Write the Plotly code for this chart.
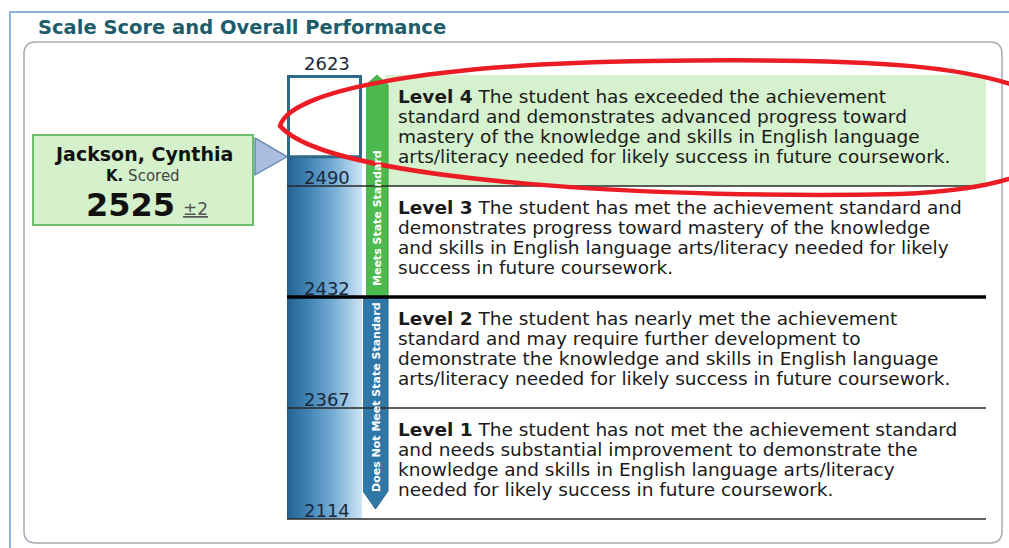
import numpy as np
import plotly.graph_objects as go

'''Score report: scale score against the achievement level cut scores'''

title = "Scale Score and Overall Performance"

# cut scores from the bottom of the scale to the top
cut_scores = [2114, 2367, 2432, 2490, 2623]
meets_cut = 2432

student_name = "Jackson, Cynthia"
student_initial = "K."
student_score = 2525
score_error = 2

standard_labels = ["Does Not Meet State Standard", "Meets State Standard"]

level_names = ["Level 1", "Level 2", "Level 3", "Level 4"]
level_lines = [
    ["The student has not met the achievement standard",
     "and needs substantial improvement to demonstrate the",
     "knowledge and skills in English language arts/literacy",
     "needed for likely success in future coursework."],
    ["The student has nearly met the achievement",
     "standard and may require further development to",
     "demonstrate the knowledge and skills in English language",
     "arts/literacy needed for likely success in future coursework."],
    ["The student has met the achievement standard and",
     "demonstrates progress toward mastery of the knowledge",
     "and skills in English language arts/literacy needed for likely",
     "success in future coursework."],
    ["The student has exceeded the achievement",
     "standard and demonstrates advanced progress toward",
     "mastery of the knowledge and skills in English language",
     "arts/literacy needed for likely success in future coursework."],
]

W, H = 1009, 548
PX_BAND = 111.0      # each level band gets the same height
TOP_PX = 75.0        # pixel row of the top cut score
FONT = "DejaVu Sans"
config = {'showLink': False, 'displayModeBar': False}

band_idx = np.arange(len(cut_scores))


def band(score):
    # piecewise linear position of a score inside the level bands
    return float(np.interp(score, cut_scores, band_idx))


def dpx(p):
    # pixel distance -> band units
    return p / PX_BAND


n_bands = len(cut_scores) - 1
y_top = n_bands + TOP_PX / PX_BAND
y_bot = -(H - TOP_PX - n_bands * PX_BAND) / PX_BAND

s = band(student_score)
b_meet = band(meets_cut)
b_lo, b_hi = band(cut_scores[0]), band(cut_scores[-1])

BAR_X0, BAR_X1 = 287, 362

fig = go.Figure()

# student bar, gradient from dark left to light right
fig.add_trace(go.Scatter(
    x=[BAR_X0, BAR_X1, BAR_X1, BAR_X0], y=[b_lo, b_lo, s, s],
    fill="toself", mode="lines", line_width=0,
    fillgradient=dict(type="horizontal",
                      colorscale=[[0, "#245e8c"], [0.08, "#2c6c9c"], [0.25, "#3c80b1"],
                                  [0.6, "#72aad3"], [1, "#cde5f5"]]),
    hoverinfo="skip"))

# meets / does not meet arrows
fig.add_trace(go.Scatter(
    x=[366, 388, 388, 377, 366], y=[b_meet, b_meet, b_hi - dpx(10), b_hi, b_hi - dpx(10)],
    fill="toself", mode="lines", line=dict(color="#3d9f40", width=1),
    fillcolor="#4dba4f", hoverinfo="skip"))
fig.add_trace(go.Scatter(
    x=[363, 388, 388, 375.5, 363], y=[b_meet, b_meet, b_lo + dpx(28), b_lo + dpx(10), b_lo + dpx(28)],
    fill="toself", mode="lines", line=dict(color="#266591", width=1),
    fillcolor="#2f77a7", hoverinfo="skip"))

# pointer from the name box to the score
fig.add_trace(go.Scatter(
    x=[255, 287, 255, 255], y=[s + dpx(19), s, s - dpx(18), s + dpx(19)],
    fill="toself", mode="lines", line=dict(color="#6a8ab4", width=1.5),
    fillcolor="#aabfdd", hoverinfo="skip"))

# empty trace so the pixel axis y2 exists
fig.add_trace(go.Scatter(x=[None], y=[None], yaxis="y2", hoverinfo="skip"))

shapes = []
# outer frame and rounded inner panel (pixel coords on y2)
shapes.append(dict(type="path", xref="x", yref="y2", layer="below",
                   path="M 10,548 L 10,12 L 1009,12",
                   line=dict(color="#8fb3de", width=2)))
shapes.append(dict(type="path", xref="x", yref="y2", layer="below",
                   path="M 36,42 L 990,42 Q 1002,42 1002,54 L 1002,531 Q 1002,543 990,543 "
                        "L 36,543 Q 24,543 24,531 L 24,54 Q 24,42 36,42 Z",
                   line=dict(color="#a3abb3", width=1.5), fillcolor="white"))
# highlighted band of the student's level
lvl = int(np.searchsorted(cut_scores, student_score, side="right")) - 1
shapes.append(dict(type="rect", xref="x", yref="y", layer="below",
                   x0=385, x1=986, y0=band(cut_scores[lvl]), y1=band(cut_scores[lvl + 1]),
                   fillcolor="#d5f1ce", line_width=0))
# name box
shapes.append(dict(type="rect", xref="x", yref="y2", layer="below",
                   x0=33, x1=253, y0=135, y1=225,
                   fillcolor="#d4f1cc", line=dict(color="#6cbd6c", width=2)))
# unfilled part of the bar
shapes.append(dict(type="rect", xref="x", yref="y", x0=BAR_X0 + 1.5, x1=BAR_X1 - 1.5,
                   y0=s, y1=b_hi - dpx(1.5), fillcolor="white",
                   line=dict(color="#2d6a87", width=3)))
# cut score lines
for c in cut_scores[:-1]:
    thick = c == meets_cut
    shapes.append(dict(type="line", xref="x", yref="y", x0=BAR_X0, x1=986,
                       y0=band(c), y1=band(c),
                       line=dict(color="#000000" if thick else "#2a2a2a",
                                 width=3.5 if thick else 1.5)))
# hand drawn red ellipse
shapes.append(dict(type="path", xref="x", yref="y2",
                   path="M 280,126 C 290,90 430,64 650,61 C 860,58 1000,62 1060,108 "
                        "C 1080,150 1045,188 900,194 C 680,199 330,184 280,126 Z",
                   line=dict(color="#ec1c24", width=4.5)))

ann = []
ann.append(dict(text="<b>" + title + "</b>", x=36, y=27, xref="x", yref="y2",
                xanchor="left", yanchor="middle", showarrow=False,
                font=dict(family=FONT, size=19.5, color="#1d5c6b")))

# cut score labels
for i, c in enumerate(cut_scores):
    ann.append(dict(text=str(c), x=327, y=band(c), xref="x", yref="y",
                    xanchor="center", yanchor="middle", showarrow=False,
                    yshift=12 if i == len(cut_scores) - 1 else 9,
                    font=dict(family=FONT, size=18, color="#1b2a3c")))

# level descriptions
for k, (name, lines) in enumerate(zip(level_names, level_lines)):
    yc = (band(cut_scores[k]) + band(cut_scores[k + 1])) / 2
    for i, line in enumerate(lines):
        txt = ("<b>" + name + "</b> " + line) if i == 0 else line
        ann.append(dict(text=txt, x=396, y=yc, xref="x", yref="y",
                        xanchor="left", yanchor="middle", showarrow=False,
                        yshift=4 - (i - 1.5) * 20,
                        font=dict(family=FONT, size=18.5, color="#1a1a1a")))

# arrow labels
ann.append(dict(text="<b>" + standard_labels[1] + "</b>", x=377, y=b_meet, xref="x", yref="y",
                yshift=79, textangle=-90, showarrow=False,
                font=dict(family=FONT, size=11, color="white")))
ann.append(dict(text="<b>" + standard_labels[0] + "</b>", x=376, y=b_meet, xref="x", yref="y",
                yshift=-100, textangle=-90, showarrow=False,
                font=dict(family=FONT, size=11, color="white")))

# name box text
ann.append(dict(text="<b>" + student_name + "</b>", x=143, y=153.5, xref="x", yref="y2",
                showarrow=False, font=dict(family=FONT, size=19, color="#111111")))
ann.append(dict(text="<b>" + student_initial + "</b> <span style='color:#444444'>Scored</span>",
                x=143, y=175.5, xref="x", yref="y2", showarrow=False,
                font=dict(family=FONT, size=15, color="#111111")))
ann.append(dict(text="<b>" + str(student_score) + "</b>", x=130, y=204.5, xref="x", yref="y2",
                showarrow=False, font=dict(family=FONT, size=32, color="#111111")))
ann.append(dict(text="<u>±" + str(score_error) + "</u>", x=181, y=209, xref="x", yref="y2",
                xanchor="left", showarrow=False,
                font=dict(family=FONT, size=17, color="#555555")))

fig.update_layout(
    width=W, height=H,
    margin=dict(l=0, r=0, t=0, b=0),
    paper_bgcolor="white", plot_bgcolor="white",
    showlegend=False,
    xaxis=dict(range=[0, W], visible=False, fixedrange=True),
    yaxis=dict(range=[y_bot, y_top], visible=False, fixedrange=True),
    yaxis2=dict(range=[H, 0], overlaying="y", visible=False, fixedrange=True),
    shapes=shapes,
    annotations=ann,
)

fig.write_html("out.html", config=config, post_script="document.body.style.margin='0';")
